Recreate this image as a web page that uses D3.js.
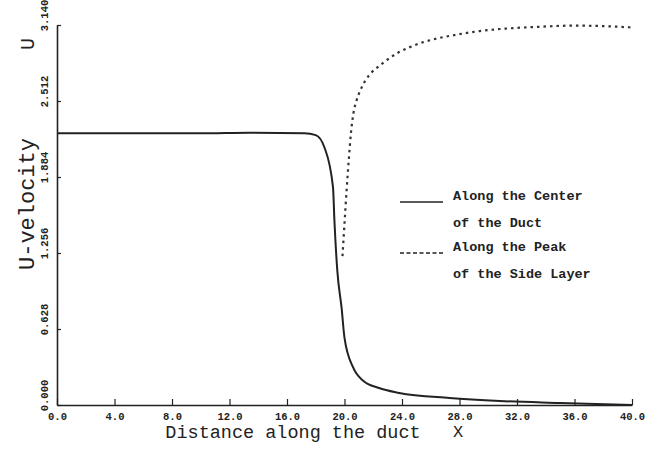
<!DOCTYPE html>
<html>
<head>
<meta charset="utf-8">
<script src="https://cdn.jsdelivr.net/npm/d3@7"></script>
<style>
	body {margin:0; background:#fff;}
	svg {display:block;}
	.tick text {font-family:"Liberation Mono", monospace; font-weight:bold; font-size:10.5px; fill:#222;}
</style>
</head>
<body>
<div class="c_chart"></div>
<script>

/*DATA
------------------------------------------------------
*/

const xTicks = [0, 4, 8, 12, 16, 20, 24, 28, 32, 36, 40];
const yTicks = [0.000, 0.628, 1.256, 1.884, 2.512, 3.140];

// along the center of the duct
const centerX = [0, 5, 10, 13.4, 17.2, 18.0, 18.6, 19.2, 19.3, 19.5, 19.8, 20.0, 20.6, 21.3, 22.4, 23.8, 27.3, 30.8, 35.0, 40.0];
const centerU = [2.245, 2.245, 2.245, 2.25, 2.245, 2.23, 2.13, 1.80, 1.52, 1.11, 0.80, 0.555, 0.31, 0.20, 0.14, 0.10, 0.058, 0.033, 0.017, 0.0];

// along the peak of the side layer
const peakX = [19.86, 20.0, 20.15, 20.3, 20.45, 20.62, 20.85, 21.1, 21.45, 21.9, 22.4, 23.0, 23.7, 24.5, 25.4, 26.5, 27.8, 29.4, 31.2, 33.5, 36.0, 38.2, 39.9];
const peakU = [1.23, 1.50, 1.78, 2.03, 2.25, 2.41, 2.52, 2.60, 2.68, 2.75, 2.80, 2.855, 2.91, 2.955, 2.995, 3.03, 3.06, 3.09, 3.11, 3.125, 3.135, 3.13, 3.12];

const legendText = [["Along the Center", "of the Duct"], ["Along the Peak", "of the Side Layer"]];

/*DIMENSIONS
------------------------------------------------------
*/

const width = 663;
const height = 457;
const margin = {top:25, right:31, bottom:52, left:57};

const svg = d3.select(".c_chart")
	.append("svg")
	.attr("width", width)
	.attr("height", height);

const x = d3.scaleLinear()
	.domain([0, 40])
	.range([margin.left, width - margin.right]);

const y = d3.scaleLinear()
	.domain([0, 3.14])
	.range([height - margin.bottom, margin.top]);

/*AXES
------------------------------------------------------
*/

const xAxis = svg.append("g")
	.attr("transform", "translate(0," + y(0) + ")")
	.call(d3.axisBottom(x).tickValues(xTicks).tickSizeInner(-6).tickSizeOuter(0).tickPadding(8).tickFormat(d3.format(".1f")));

const yAxis = svg.append("g")
	.attr("transform", "translate(" + x(0) + ",0)")
	.call(d3.axisLeft(y).tickValues(yTicks).tickSizeInner(-4).tickSizeOuter(0).tickFormat(d3.format(".3f")));

[xAxis, yAxis].forEach(function(a){
	a.select(".domain").attr("stroke", "#222").attr("stroke-width", 1.6);
	a.selectAll(".tick line").attr("stroke", "#222").attr("stroke-width", 1.2);
});

yAxis.selectAll(".tick text")
	.attr("text-anchor", "middle")
	.attr("x", 0)
	.attr("dy", 0)
	.attr("transform", "translate(-9,-10) rotate(-90)");

/*LINES
------------------------------------------------------
*/

const line = d3.line()
	.x(d => x(d[0]))
	.y(d => y(d[1]))
	.curve(d3.curveMonotoneX);

svg.append("path")
	.datum(d3.zip(centerX, centerU))
	.attr("d", line)
	.attr("fill", "none")
	.attr("stroke", "#222")
	.attr("stroke-width", 2);

svg.append("path")
	.datum(d3.zip(peakX, peakU))
	.attr("d", line)
	.attr("fill", "none")
	.attr("stroke", "#333")
	.attr("stroke-width", 2.2)
	.attr("stroke-dasharray", "2.5,4");

/*LEGEND
------------------------------------------------------
*/

const legend = svg.append("g")
	.attr("transform", "translate(400,200)")
	.attr("font-family", "Liberation Mono, monospace")
	.attr("font-weight", "bold")
	.attr("font-size", 13.5)
	.attr("fill", "#222");

legendText.forEach(function(t, i){
	legend.append("line")
		.attr("x1", 0).attr("x2", 43)
		.attr("y1", i * 51 + 2).attr("y2", i * 51 + 2)
		.attr("stroke", "#222")
		.attr("stroke-width", 1.6)
		.attr("stroke-dasharray", i ? "4,2.5" : null);
	t.forEach(function(s, j){
		legend.append("text")
			.attr("x", 53)
			.attr("y", i * 51 + j * 27)
			.text(s);
	});
});

/*TITLES
------------------------------------------------------
*/

svg.append("text")
	.attr("x", 293)
	.attr("y", 438)
	.attr("text-anchor", "middle")
	.attr("font-family", "Liberation Mono, monospace")
	.attr("font-size", 18.5)
	.attr("fill", "#222")
	.text("Distance along the duct");

svg.append("text")
	.attr("x", 458)
	.attr("y", 437)
	.attr("text-anchor", "middle")
	.attr("font-family", "Liberation Mono, monospace")
	.attr("font-size", 17)
	.attr("fill", "#222")
	.text("X");

svg.append("text")
	.attr("transform", "translate(34,204) rotate(-90)")
	.attr("text-anchor", "middle")
	.attr("font-family", "Liberation Mono, monospace")
	.attr("font-size", 22)
	.attr("fill", "#222")
	.text("U-velocity");

svg.append("text")
	.attr("transform", "translate(34,44) rotate(-90)")
	.attr("text-anchor", "middle")
	.attr("font-family", "Liberation Mono, monospace")
	.attr("font-size", 20)
	.attr("fill", "#222")
	.text("U");

</script>
</body>
</html>
